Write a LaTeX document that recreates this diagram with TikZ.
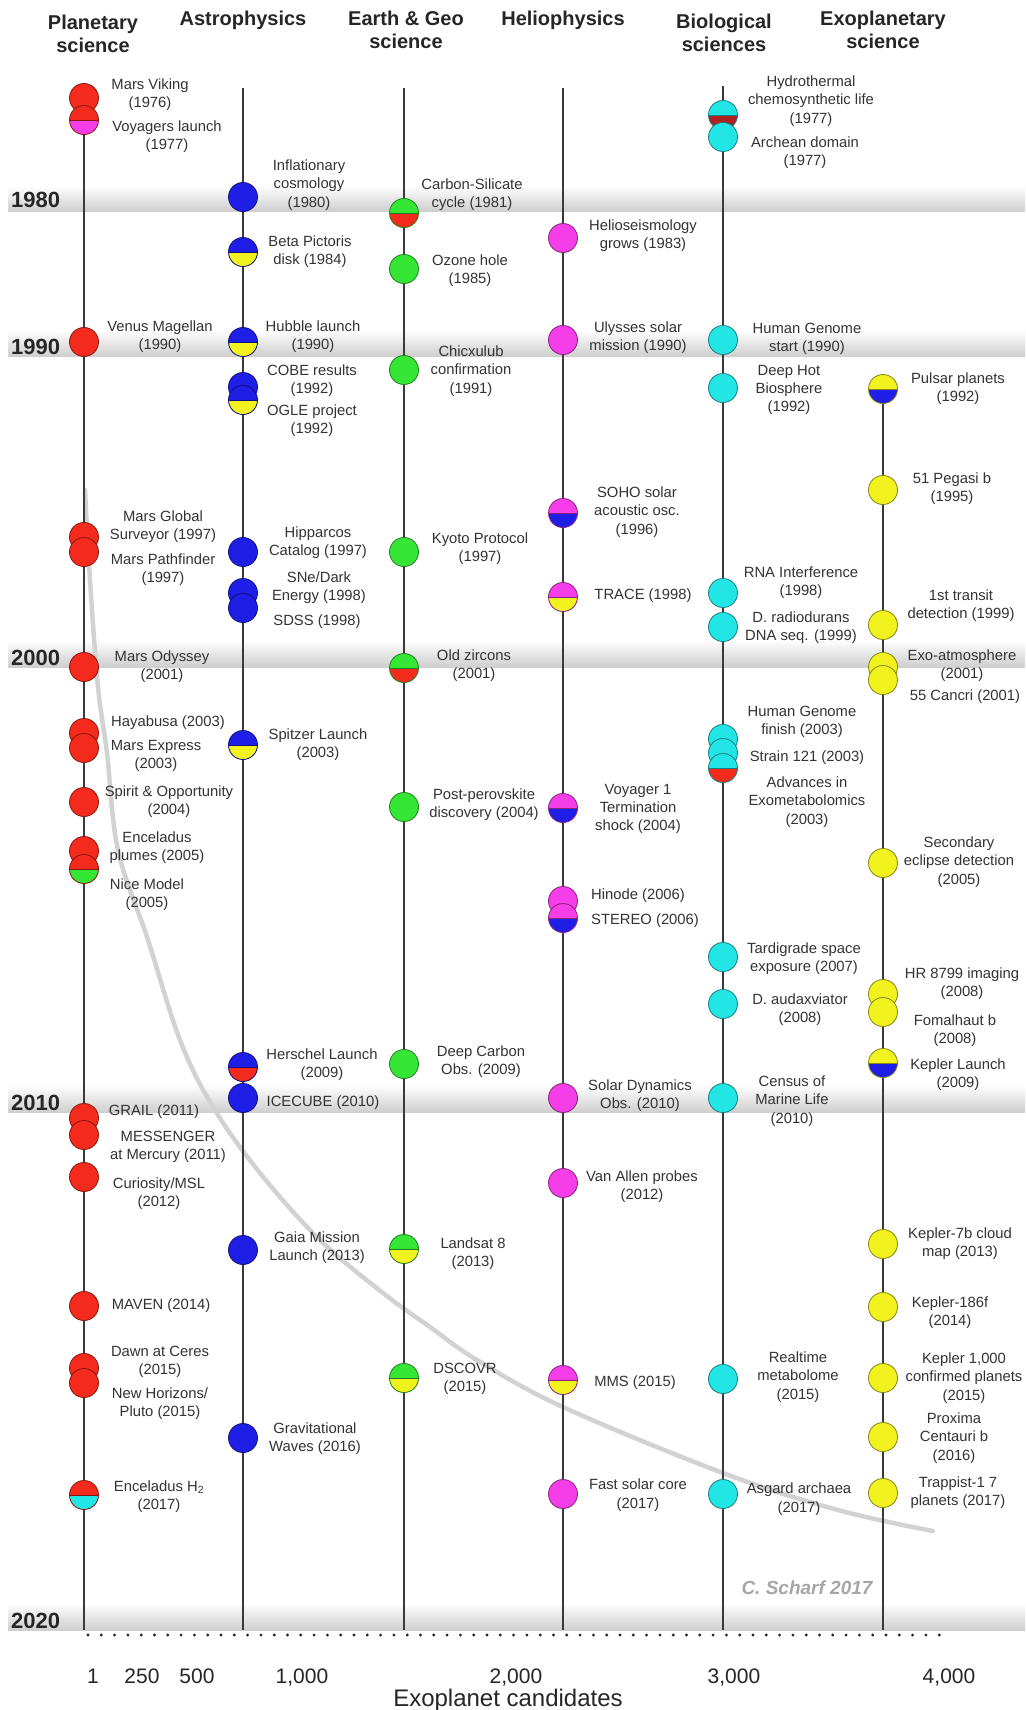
\documentclass[tikz,border=0pt]{standalone}
\usepackage{fontspec}
\setmainfont{Liberation Sans}
\usetikzlibrary{calc}
\definecolor{pred}{HTML}{F42A1C}
\definecolor{pmag}{HTML}{F53DE8}
\definecolor{pblue}{HTML}{1E1EE6}
\definecolor{pyel}{HTML}{F2F21E}
\definecolor{pgreen}{HTML}{35E635}
\definecolor{pcyan}{HTML}{22E6E6}
\definecolor{pdred}{HTML}{B02020}
\definecolor{lineg}{HTML}{3A3A3A}
\definecolor{txtg}{HTML}{333333}
\definecolor{bandg}{HTML}{CFCFCF}
\definecolor{curveg}{HTML}{D2D2D2}
\newcommand\evt[7]{\node[#4] (#1) at (#2,#3) {}; \node[lbl] (#1t) at (#5,#6) {#7};}
\begin{document}
\begin{tikzpicture}[x=1pt,y=-1pt,
  evdot/.style={circle, draw=#1!55!black, fill=#1, minimum size=29pt, inner sep=0pt, line width=0.8pt},
  evhalf/.style 2 args={circle, draw=#1!55!black, fill=#1, minimum size=29pt, inner sep=0pt, line width=0.8pt,
     path picture={\fill[#2] (path picture bounding box.west) rectangle (path picture bounding box.south east);
                   \draw[#1!55!black, line width=0.8pt] (path picture bounding box.west) -- (path picture bounding box.east);}},
  lbl/.style={font=\fontsize{14.8}{18.3}\selectfont, align=center, inner sep=0pt, text=txtg},
  hdr/.style={font=\fontsize{20}{23.5}\selectfont\bfseries, align=center, inner sep=0pt, text=black!85},
  yr/.style={font=\fontsize{22}{24}\selectfont\bfseries, anchor=west, inner sep=0pt, text=black!85},
  axn/.style={font=\fontsize{21}{24}\selectfont, anchor=base, inner sep=0pt, text=black!85},
  vline/.style={draw=lineg, line width=2pt},
  band/.style={top color=white, bottom color=bandg, draw=none}
]
\useasboundingbox (0,0) rectangle (1025,1710);
\fill[white] (0,0) rectangle (1025,1710);

% decade bands
\shade[band] (8,186) rectangle (1025,211);
\shade[band] (8,330) rectangle (1025,356);
\shade[band] (8,640) rectangle (1025,667);
\shade[band] (8,1085) rectangle (1025,1112);
\shade[band] (8,1603) rectangle (1025,1630);
\node[yr] (y1980) at (11,200) {1980};
\node[yr] (y1990) at (11,347) {1990};
\node[yr] (y2000) at (11,658) {2000};
\node[yr] (y2010) at (11,1103) {2010};
\node[yr] (y2020) at (11,1621) {2020};

% exoplanet candidates curve
\draw[curveg, line width=4.5pt, line cap=round] plot[smooth, tension=0.6] coordinates {
 (85,490) (90,580) (98,687) (107,753) (118,850) (148,940) (180,1040) (213,1107)
 (260,1173) (320,1240) (383,1293) (430,1327) (477,1360) (563,1407) (723,1473) (838,1510) (933,1531)};

% headers
\node[hdr] (hpl) at (93,34) {Planetary\\science};
\node[hdr] (has) at (243,20) {Astrophysics};
\node[hdr] (hea) at (406,30) {Earth \& Geo\\science};
\node[hdr] (hhe) at (563,20) {Heliophysics};
\node[hdr] (hbi) at (724,33) {Biological\\sciences};
\node[hdr] (hex) at (883,30) {Exoplanetary\\science};

% vertical timelines
\coordinate (plT) at (84,98);   \coordinate (plB) at (84,1630);
\coordinate (asT) at (243,88);  \coordinate (asB) at (243,1630);
\coordinate (eaT) at (404,88);  \coordinate (eaB) at (404,1630);
\coordinate (heT) at (563,88);  \coordinate (heB) at (563,1630);
\coordinate (biT) at (723,86);  \coordinate (biB) at (723,1630);
\coordinate (exT) at (883,389); \coordinate (exB) at (883,1630);
\draw[vline] (plT) -- (plB);
\draw[vline] (asT) -- (asB);
\draw[vline] (eaT) -- (eaB);
\draw[vline] (heT) -- (heB);
\draw[vline] (biT) -- (biB);
\draw[vline] (exT) -- (exB);

% Planetary science
\evt{mv}{84}{98}{evdot=pred}{150}{95}{Mars Viking\\(1976)}
\evt{vo}{84}{120}{evhalf={pred}{pmag}}{167}{137}{Voyagers launch\\(1977)}
\evt{vm}{84}{342}{evdot=pred}{160}{337}{Venus Magellan\\(1990)}
\evt{mgs}{84}{537}{evdot=pred}{163}{527}{Mars Global\\Surveyor (1997)}
\evt{mpf}{84}{552}{evdot=pred}{163}{570}{Mars Pathfinder\\(1997)}
\evt{mo}{84}{667}{evdot=pred}{162}{667}{Mars Odyssey\\(2001)}
\evt{hay}{84}{733}{evdot=pred}{168}{723}{Hayabusa (2003)}
\evt{mex}{84}{748}{evdot=pred}{156}{756}{Mars Express\\(2003)}
\evt{spo}{84}{802}{evdot=pred}{169}{802}{Spirit \& Opportunity\\(2004)}
\evt{enc}{84}{851}{evdot=pred}{157}{848}{Enceladus\\plumes (2005)}
\evt{nice}{84}{869}{evhalf={pred}{pgreen}}{147}{895}{Nice Model\\(2005)}
\evt{gr}{84}{1118}{evdot=pred}{154}{1112}{GRAIL (2011)}
\evt{mes}{84}{1135}{evdot=pred}{168}{1147}{MESSENGER\\at Mercury (2011)}
\evt{cur}{84}{1177}{evdot=pred}{159}{1194}{Curiosity/MSL\\(2012)}
\evt{mav}{84}{1306}{evdot=pred}{161}{1306}{MAVEN (2014)}
\evt{dawn}{84}{1368}{evdot=pred}{160}{1362}{Dawn at Ceres\\(2015)}
\evt{nh}{84}{1383}{evdot=pred}{160}{1404}{New Horizons/\\Pluto (2015)}
\evt{ench}{84}{1495}{evhalf={pred}{pcyan}}{159}{1497}{Enceladus H\textsubscript{2}\\(2017)}

% Astrophysics
\evt{inf}{243}{197}{evdot=pblue}{309}{185}{Inflationary\\cosmology\\(1980)}
\evt{bp}{243}{252}{evhalf={pblue}{pyel}}{310}{252}{Beta Pictoris\\disk (1984)}
\evt{hub}{243}{342}{evhalf={pblue}{pyel}}{313}{337}{Hubble launch\\(1990)}
\evt{cobe}{243}{387}{evdot=pblue}{312}{381}{COBE results\\(1992)}
\evt{ogle}{243}{400}{evhalf={pblue}{pyel}}{312}{421}{OGLE project\\(1992)}
\evt{hip}{243}{552}{evdot=pblue}{318}{543}{Hipparcos\\Catalog (1997)}
\evt{sne}{243}{593}{evdot=pblue}{319}{588}{SNe/Dark\\Energy (1998)}
\evt{sdss}{243}{608}{evdot=pblue}{317}{622}{SDSS (1998)}
\evt{spz}{243}{745}{evhalf={pblue}{pyel}}{318}{745}{Spitzer Launch\\(2003)}
\evt{her}{243}{1067}{evhalf={pblue}{pred}}{322}{1065}{Herschel Launch\\(2009)}
\evt{ice}{243}{1098}{evdot=pblue}{323}{1103}{ICECUBE (2010)}
\evt{gaia}{243}{1250}{evdot=pblue}{317}{1248}{Gaia Mission\\Launch (2013)}
\evt{gw}{243}{1438}{evdot=pblue}{315}{1439}{Gravitational\\Waves (2016)}

% Earth & Geo science
\evt{cs}{404}{213}{evhalf={pgreen}{pred}}{472}{195}{Carbon-Silicate\\cycle (1981)}
\evt{oz}{404}{269}{evdot=pgreen}{470}{271}{Ozone hole\\(1985)}
\evt{chx}{404}{370}{evdot=pgreen}{471}{371}{Chicxulub\\confirmation\\(1991)}
\evt{kyo}{404}{552}{evdot=pgreen}{480}{549}{Kyoto Protocol\\(1997)}
\evt{oldz}{404}{668}{evhalf={pgreen}{pred}}{474}{666}{Old zircons\\(2001)}
\evt{pp}{404}{807}{evdot=pgreen}{484}{805}{Post-perovskite\\discovery (2004)}
\evt{dco}{404}{1064}{evdot=pgreen}{481}{1062}{Deep Carbon\\Obs. (2009)}
\evt{ls8}{404}{1249}{evhalf={pgreen}{pyel}}{473}{1254}{Landsat 8\\(2013)}
\evt{dsc}{404}{1378}{evhalf={pgreen}{pyel}}{465}{1379}{DSCOVR\\(2015)}

% Heliophysics
\evt{hs}{563}{238}{evdot=pmag}{643}{236}{Helioseismology\\grows (1983)}
\evt{uly}{563}{340}{evdot=pmag}{638}{338}{Ulysses solar\\mission (1990)}
\evt{soho}{563}{513}{evhalf={pmag}{pblue}}{637}{512}{SOHO solar\\acoustic osc.\\(1996)}
\evt{trace}{563}{597}{evhalf={pmag}{pyel}}{643}{596}{TRACE (1998)}
\evt{voy}{563}{808}{evhalf={pmag}{pblue}}{638}{809}{Voyager 1\\Termination\\shock (2004)}
\evt{hin}{563}{901}{evdot=pmag}{638}{896}{Hinode (2006)}
\evt{ste}{563}{918}{evhalf={pmag}{pblue}}{645}{921}{STEREO (2006)}
\evt{sdo}{563}{1098}{evdot=pmag}{640}{1096}{Solar Dynamics\\Obs. (2010)}
\evt{va}{563}{1183}{evdot=pmag}{642}{1187}{Van Allen probes\\(2012)}
\evt{mms}{563}{1380}{evhalf={pmag}{pyel}}{635}{1383}{MMS (2015)}
\evt{fsc}{563}{1494}{evdot=pmag}{638}{1495}{Fast solar core\\(2017)}

% Biological sciences
\evt{hyd}{723}{115}{evhalf={pcyan}{pdred}}{811}{101}{Hydrothermal\\chemosynthetic life\\(1977)}
\evt{arc}{723}{137}{evdot=pcyan}{805}{153}{Archean domain\\(1977)}
\evt{hgs}{723}{340}{evdot=pcyan}{807}{339}{Human Genome\\start (1990)}
\evt{dhb}{723}{388}{evdot=pcyan}{789}{390}{Deep Hot\\Biosphere\\(1992)}
\evt{rna}{723}{593}{evdot=pcyan}{801}{583}{RNA Interference\\(1998)}
\evt{drd}{723}{627}{evdot=pcyan}{801}{628}{D. radiodurans\\DNA seq. (1999)}
\evt{hgf}{723}{739}{evdot=pcyan}{802}{722}{Human Genome\\finish (2003)}
\evt{sst}{723}{753}{evdot=pcyan}{807}{758}{Strain 121 (2003)}
\evt{exm}{723}{768}{evhalf={pcyan}{pred}}{807}{802}{Advances in\\Exometabolomics\\(2003)}
\evt{tar}{723}{957}{evdot=pcyan}{804}{959}{Tardigrade space\\exposure (2007)}
\evt{dau}{723}{1004}{evdot=pcyan}{800}{1010}{D. audaxviator\\(2008)}
\evt{cml}{723}{1098}{evdot=pcyan}{792}{1101}{Census of\\Marine Life\\(2010)}
\evt{rtm}{723}{1379}{evdot=pcyan}{798}{1377}{Realtime\\metabolome\\(2015)}
\evt{asg}{723}{1494}{evdot=pcyan}{799}{1499}{Asgard archaea\\(2017)}

% Exoplanetary science
\evt{pul}{883}{389}{evhalf={pyel}{pblue}}{958}{389}{Pulsar planets\\(1992)}
\evt{peg}{883}{490}{evdot=pyel}{952}{489}{51 Pegasi b\\(1995)}
\evt{trn}{883}{625}{evdot=pyel}{961}{606}{1st transit\\detection (1999)}
\evt{exa}{883}{667}{evdot=pyel}{962}{666}{Exo-atmosphere\\(2001)}
\evt{cnc}{883}{680}{evdot=pyel}{965}{697}{55 Cancri (2001)}
\evt{sec}{883}{863}{evdot=pyel}{959}{862}{Secondary\\eclipse detection\\(2005)}
\evt{hr}{883}{994}{evdot=pyel}{962}{984}{HR 8799 imaging\\(2008)}
\evt{fom}{883}{1012}{evdot=pyel}{955}{1031}{Fomalhaut b\\(2008)}
\evt{kl}{883}{1063}{evhalf={pyel}{pblue}}{958}{1075}{Kepler Launch\\(2009)}
\evt{ksb}{883}{1244}{evdot=pyel}{960}{1244}{Kepler-7b cloud\\map (2013)}
\evt{kef}{883}{1307}{evdot=pyel}{950}{1313}{Kepler-186f\\(2014)}
\evt{kth}{883}{1378}{evdot=pyel}{964}{1378}{Kepler 1,000\\confirmed planets\\(2015)}
\evt{prox}{883}{1437}{evdot=pyel}{954}{1438}{Proxima\\Centauri b\\(2016)}
\evt{trap}{883}{1493}{evdot=pyel}{958}{1493}{Trappist-1 7\\planets (2017)}

% credit
\node[font=\fontsize{19}{22}\selectfont\bfseries\itshape, text=black!35, inner sep=0pt] (credit) at (807,1588) {C. Scharf 2017};

% dotted axis
\coordinate (axL) at (88,1635);
\coordinate (axR) at (950,1635);
\draw[black!85, line width=3.2pt, line cap=round, dash pattern=on 0pt off 13.3pt] (axL) -- (axR);

\node[axn] (a1) at (93,1683) {1};
\node[axn] (a250) at (142,1683) {250};
\node[axn] (a500) at (197,1683) {500};
\node[axn] (a1k) at (302,1683) {1,000};
\node[axn] (a2k) at (516,1683) {2,000};
\node[axn] (a3k) at (734,1683) {3,000};
\node[axn] (a4k) at (949,1683) {4,000};
\node[font=\fontsize{24}{26}\selectfont, anchor=base, inner sep=0pt, text=black!85] (axt) at (508,1706) {Exoplanet candidates};
\end{tikzpicture}
\end{document}
